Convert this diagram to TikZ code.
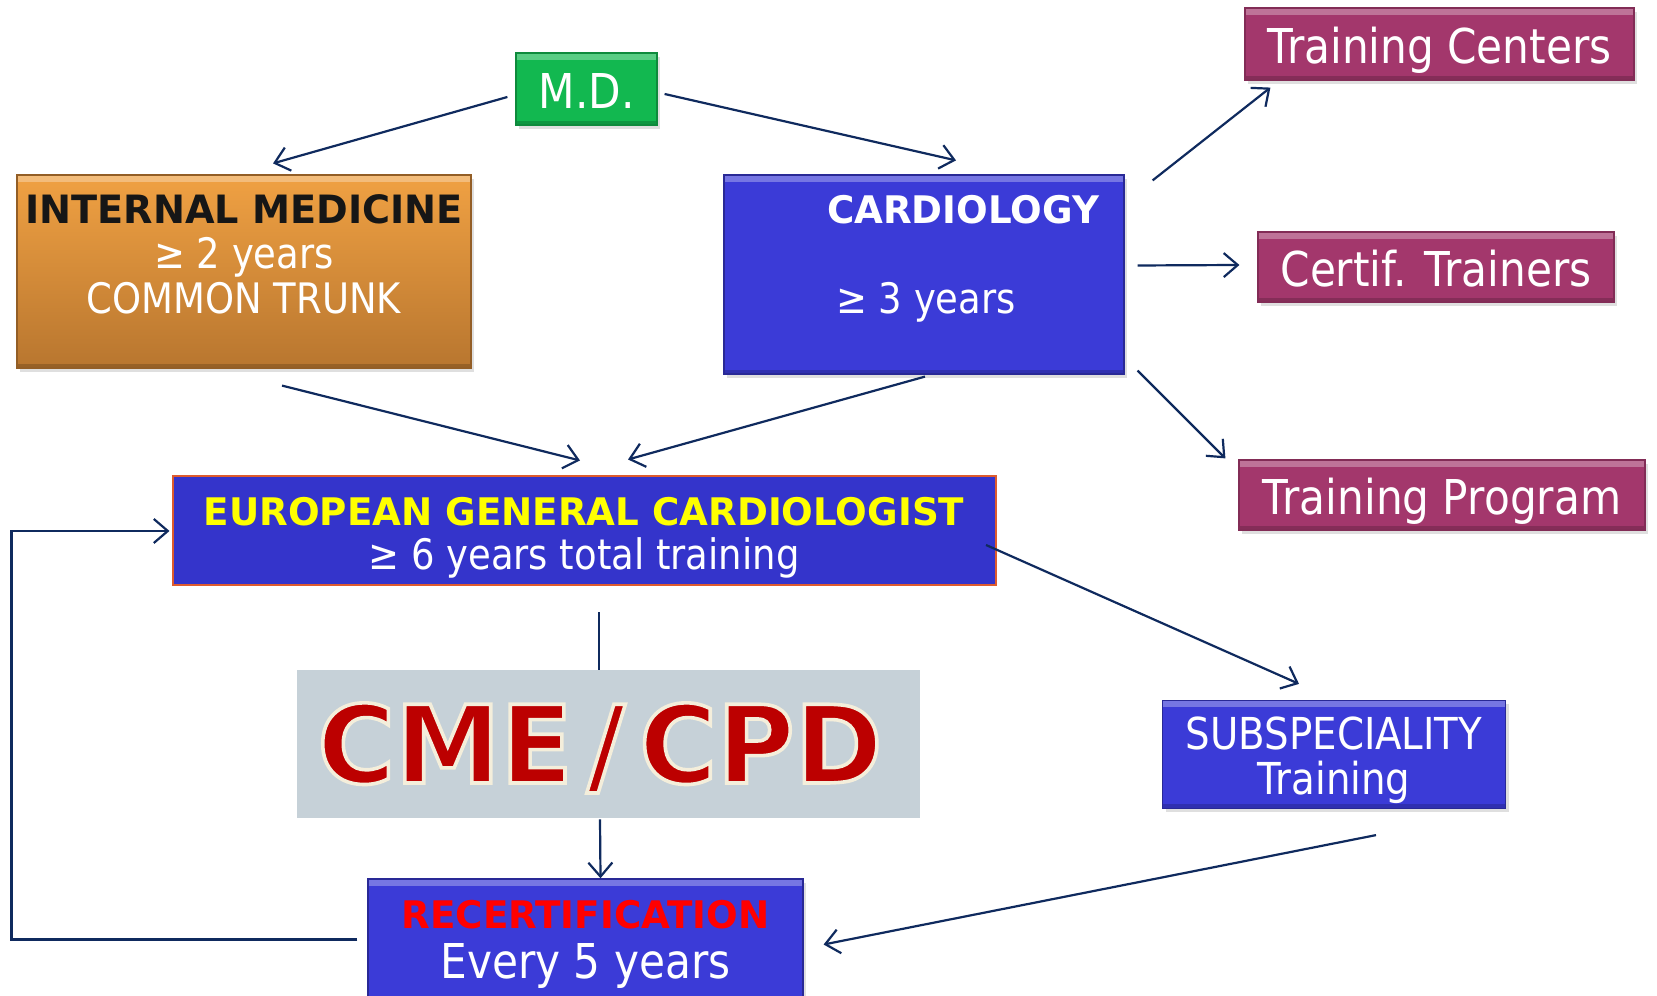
\documentclass[tikz,border=0pt]{standalone}
\usepackage{fontspec}
\setmainfont{DejaVu Sans}[FakeStretch=0.88]
\newfontfamily\headfont{DejaVu Sans}[FakeStretch=0.98]
\usetikzlibrary{arrows.meta,calc,shadows}

\definecolor{mdgreen}{HTML}{12B850}
\definecolor{imtop}{HTML}{F0A143}
\definecolor{imbot}{HTML}{B8762F}
\definecolor{imblack}{HTML}{161616}
\definecolor{cardblue}{HTML}{3B3BD7}
\definecolor{egcblue}{HTML}{3434CB}
\definecolor{egcborder}{HTML}{DE5B2E}
\definecolor{egcyellow}{HTML}{FFFF00}
\definecolor{recred}{HTML}{FF0000}
\definecolor{trainmag}{HTML}{A3376C}
\definecolor{cmegray}{HTML}{C6D1D8}
\definecolor{cmered}{HTML}{BC0000}
\definecolor{arrownavy}{HTML}{0F2A5E}

% cream rim round the red lettering
\newcommand\creamrim{\special{pdf:literal direct 2 Tr 1.8 w 0.957 0.933 0.859 RG}}

\tikzset{
  arr/.style={draw=arrownavy, line width=1.1pt, -{Straight Barb[length=7pt,width=12pt]}},
  link/.style={draw=arrownavy, line width=1.1pt},
  bevel/.style={path picture={
    \fill[white, opacity=0.3] (path picture bounding box.north west) rectangle ([yshift=-3.5pt]path picture bounding box.north east);
    \fill[black, opacity=0.18] (path picture bounding box.south west) rectangle ([yshift=2pt]path picture bounding box.south east);
  }},
  softshadow/.style={drop shadow={opacity=0.25, shadow xshift=1.5pt, shadow yshift=-2pt}},
  panel/.style={rectangle, inner sep=0pt, align=center, text=white},
  onerow/.style={text height=19.5pt, text depth=0pt, font=\fontsize{24}{26}\selectfont},
  pinkbox/.style={panel, onerow, bevel, softshadow, fill=trainmag, draw=trainmag!80!black, line width=0.6pt},
  bluebox/.style={panel, bevel, softshadow, fill=cardblue, draw=cardblue!70!black, line width=0.6pt},
  cmeword/.style={inner sep=0pt, text height=39pt, text depth=0pt, font=\headfont\bfseries\fontsize{54}{54}\selectfont}
}

\begin{document}
\begin{tikzpicture}[x=0.5pt,y=0.5pt]
  \useasboundingbox (0,0) rectangle (1657,995);
  \clip (0,0) rectangle (1657,995);
  \fill[white] (0,0) rectangle (1657,995);

  % boxes
  \node[panel, onerow, bevel, softshadow, fill=mdgreen, draw=mdgreen!75!black, line width=0.6pt,
        minimum width=70.5pt, minimum height=36pt] at (586.5,906) (md) {M.D.};
  \node[panel, bevel, softshadow, top color=imtop, bottom color=imbot, draw=imbot!80!black, line width=0.6pt,
        minimum width=227pt, minimum height=96.5pt] at (244,723.5) (im) {};
  \node[bluebox, minimum width=200pt, minimum height=99.5pt] at (924,720.5) (card) {};
  \node[pinkbox, minimum width=194.5pt, minimum height=36pt] at (1439.5,951) (tc) {Training Centers};
  \node[pinkbox, minimum width=178pt, minimum height=35pt] at (1436,728) (ct) {Certif. Trainers};
  \node[pinkbox, minimum width=203pt, minimum height=35pt] at (1442,500) (tp) {Training Program};
  \node[panel, fill=egcblue, draw=egcborder, line width=1pt, minimum width=411.5pt, minimum height=54.5pt]
    at (584,464) (egc) {};
  \node[fill=cmegray, inner sep=0pt, minimum width=311.5pt, minimum height=74pt] at (608.5,251) (cme) {};
  \node[bluebox, minimum width=171.5pt, minimum height=54pt] at (1334,240.5) (sub) {};
  \node[bluebox, minimum width=217.5pt, minimum height=65.6pt, font=\fontsize{24}{24.7}\selectfont]
    at (585.5,50.5) (rec)
    {{\headfont\bfseries\color{recred}\fontsize{19}{24.7}\selectfont RECERTIFICATION}\\Every 5 years};

  % texts set apart from their boxes
  \node[align=center, text=white, font=\fontsize{21}{22.5}\selectfont] at (244,741) (imtext)
    {{\headfont\bfseries\color{imblack}\fontsize{19.5}{22.5}\selectfont INTERNAL MEDICINE}\\≥ 2 years\\COMMON TRUNK};
  \node[anchor=base, text=white, font=\headfont\bfseries\fontsize{19}{22}\selectfont] at (963,771) (cardname) {CARDIOLOGY};
  \node[anchor=base, text=white, font=\fontsize{21}{24}\selectfont] at (926,681) (cardyears) {≥ 3 years};
  \node[align=center, text=white, font=\fontsize{21}{21.8}\selectfont] at (584,457.5) (egctext)
    {{\headfont\bfseries\color{egcyellow}\fontsize{19}{21.8}\selectfont EUROPEAN GENERAL CARDIOLOGIST}\\≥ 6 years total training};
  \node[align=center, text=white, font=\fontsize{22}{22.3}\selectfont] at (1334,234.5) (subtext)
    {SUBSPECIALITY\\Training};
  \node[cmeword, text=cmered] at (600,251) (cmetext) {\creamrim CME\hspace{7pt}/\hspace{7pt}CPD};

  % connectors
  \draw[arr] ($(md.west)+(-8,-8)$) -- ($(im.north)+(29,11)$);
  \draw[arr] ($(md.east)+(7,-5)$) -- ($(card.north)+(32,14)$);
  \draw[arr] ($(im.south)+(38,-17)$) -- ($(egc.north)+(-4,15)$);
  \draw[arr] ($(card.south)+(1,-2)$) -- ($(egc.north)+(44,16)$);
  \draw[arr] ($(card.north east)+(28,-6)$) -- ($(tc.south west)+(26,-7)$);
  \draw[arr] ($(card.east)+(13,9)$) -- ($(ct.west)+(-18,2)$);
  \draw[arr] ($(card.south east)+(13,4)$) -- ($(tp.north west)+(-13,1)$);
  \draw[arr] ($(egc.east)+(-10.5,-14)$) -- ($(sub.north)+(-35,16)$);
  \draw[link] ($(egc.south)+(15,-26)$) -- ($(cme.north)+(-9.5,0)$);
  \draw[arr] ($(cme.south)+(-8.5,-1)$) -- ($(rec.north)+(15,0)$);
  \draw[arr] ($(sub.south)+(42,-26)$) -- ($(rec.east)+(20,0)$);
  \draw[arr] ($(rec.west)+(-10,5)$) -- ++(-346,0) |- ($(egc.west)+(-2,0)$);
\end{tikzpicture}
\end{document}
